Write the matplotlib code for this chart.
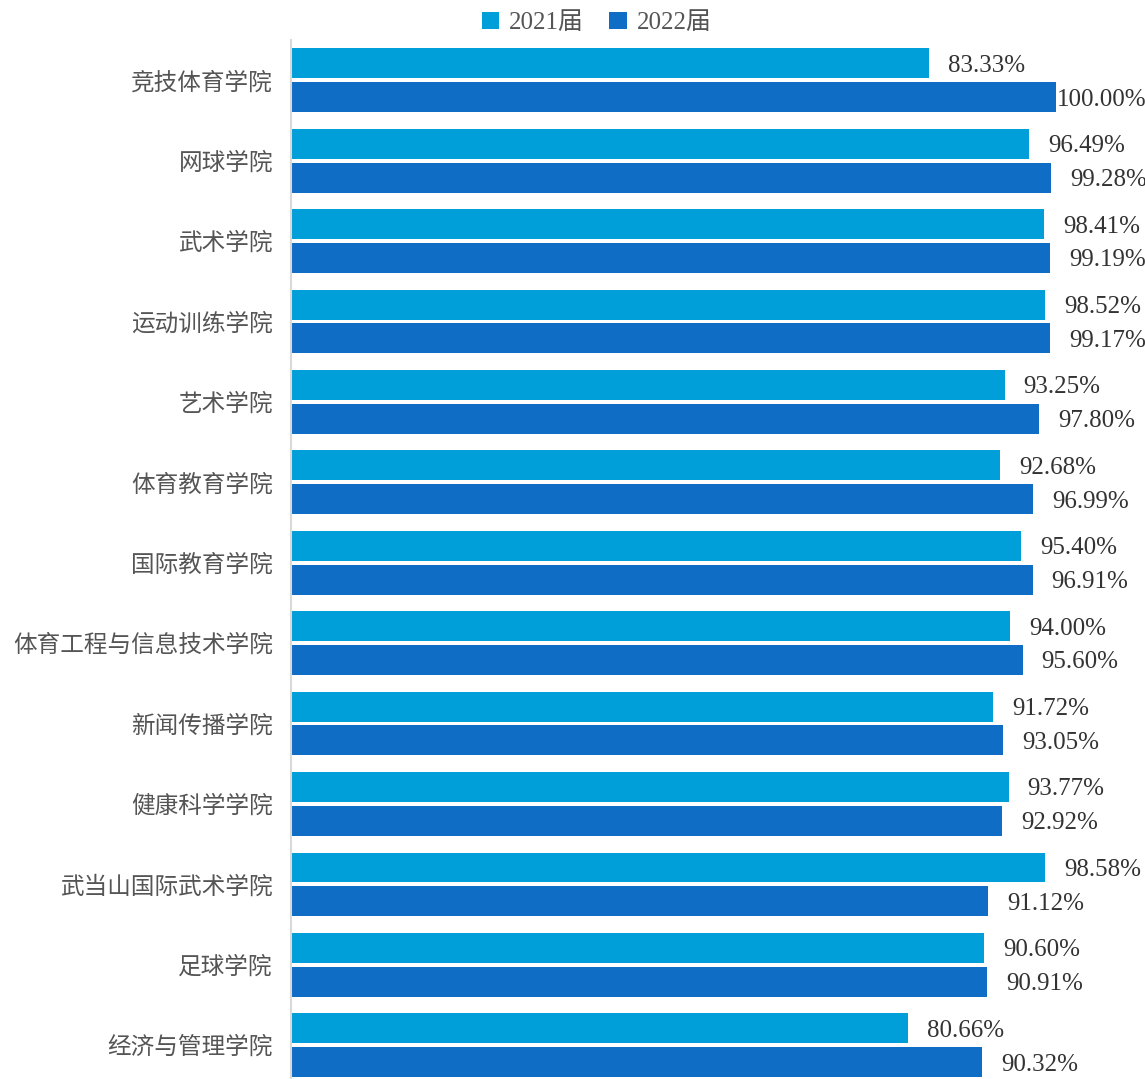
import numpy as np
import matplotlib.pyplot as plt

colleges = ["竞技体育学院", "网球学院", "武术学院", "运动训练学院", "艺术学院",
            "体育教育学院", "国际教育学院", "体育工程与信息技术学院", "新闻传播学院",
            "健康科学学院", "武当山国际武术学院", "足球学院", "经济与管理学院"]
rate_2021 = [83.33, 96.49, 98.41, 98.52, 93.25, 92.68, 95.40, 94.00, 91.72,
             93.77, 98.58, 90.60, 80.66]
rate_2022 = [100.00, 99.28, 99.19, 99.17, 97.80, 96.99, 96.91, 95.60, 93.05,
             92.92, 91.12, 90.91, 90.32]
series = ["2021届", "2022届"]
colors = ["#009fda", "#0f6dc5"]

fonts = ["Liberation Serif", "Noto Sans CJK SC", "DejaVu Sans"]
plt.rcParams["font.family"] = fonts

fig = plt.figure(figsize=(11.45, 10.79), dpi=100)
ax = fig.add_axes([291 / 1145, 0.0, 1 - 291 / 1145, 1 - 40 / 1079])

y = np.arange(len(colleges))
off = 0.21
h = 0.373
b1 = ax.barh(y - off, rate_2021, height=h, color=colors[0], label=series[0])
b2 = ax.barh(y + off, rate_2022, height=h, color=colors[1], label=series[1])

for bars, vals in ((b1, rate_2021), (b2, rate_2022)):
    for bar, v in zip(bars, vals):
        dx = 0.1 if v >= 100 else 2.5
        ax.text(v + dx, bar.get_y() + bar.get_height() / 2 + 0.03, f"{v:.2f}%",
                va="center", ha="left", fontsize=18, color="#333333")

ax.set_xlim(0, 111.6)
ax.set_ylim(12.42, -0.5)
ax.set_yticks(y)
ax.set_yticklabels(colleges, fontsize=17, color="#555555",
                   family=["Noto Sans CJK SC", "DejaVu Sans"])
ax.tick_params(axis="y", length=0, pad=13)
ax.set_xticks([])
for s in ("top", "right", "bottom"):
    ax.spines[s].set_visible(False)
ax.spines["left"].set_color("#d9d9d9")
ax.spines["left"].set_linewidth(1.5)

fig.legend(loc="upper center", bbox_to_anchor=(0.521, 1.01), ncol=2,
           frameon=False, fontsize=18, handlelength=0.7, handleheight=0.7,
           handletextpad=0.4, columnspacing=1.0, labelcolor="#555555")

fig.savefig("out.png", dpi=100)
